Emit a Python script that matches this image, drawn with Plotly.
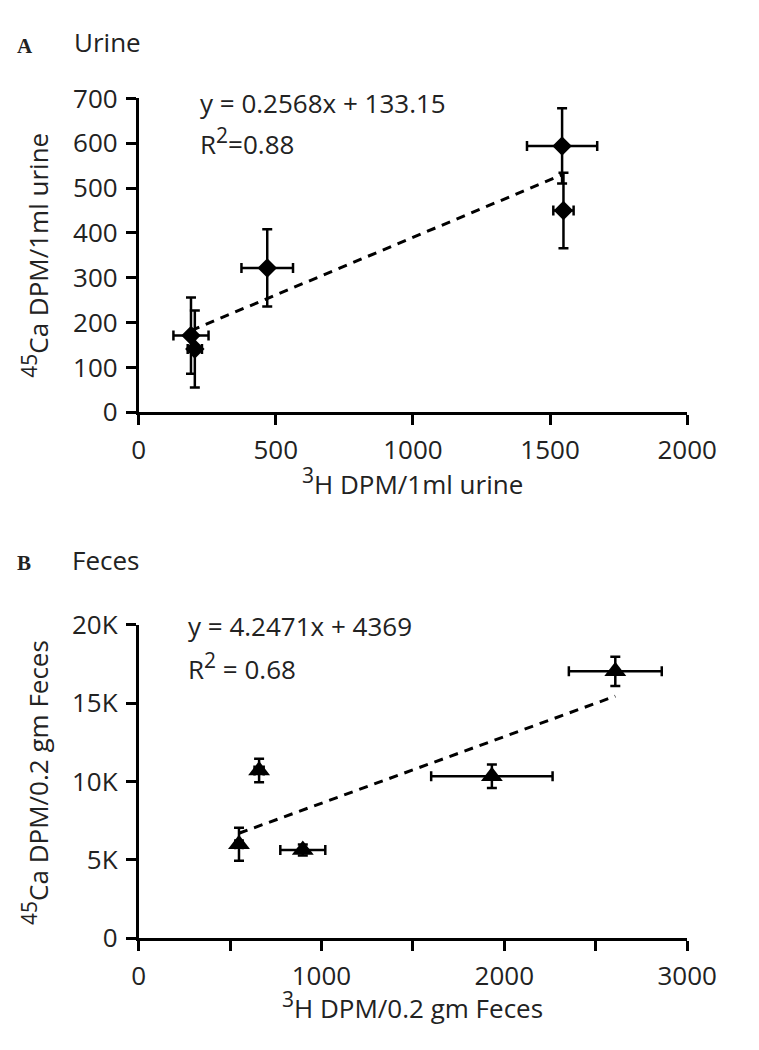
import plotly.graph_objects as go

# ---------------- data ----------------
# Panel A: Urine
urine_x = [191, 205, 469, 1544, 1549]
urine_y = [171, 141, 322, 594, 450]
urine_xerr = [64, 26, 94, 128, 37]
urine_yerr = [85, 86, 86, 84, 84]
urine_slope = 0.2568
urine_intercept = 133.15

# Panel B: Feces
feces_x = [549, 659, 898, 1932, 2607]
feces_y = [6000, 10700, 5640, 10330, 17020]
feces_xerr = [20, 25, 123, 332, 254]
feces_yerr = [1050, 750, 350, 750, 930]
feces_slope = 4.2471
feces_intercept = 4369

urine_yticks = [0, 100, 200, 300, 400, 500, 600, 700]
urine_xticks = [0, 500, 1000, 1500, 2000]
feces_yticks = [0, 5000, 10000, 15000, 20000]
feces_yticktext = ["0", "5K", "10K", "15K", "20K"]
feces_xticks = [0, 1000, 2000, 3000]

FONT = "Open Sans"
FS = 26
PAGE_OFF = 8            # default body margin of the html page
W, H = 759 - PAGE_OFF, 1050 - PAGE_OFF


def sup(s):
    return '<sup><span style="font-size:21px">' + s + '</span></sup>'


urine_eq = ["y = 0.2568x + 133.15", "R" + sup("2") + "=0.88"]
feces_eq = ["y = 4.2471x + 4369", "R" + sup("2") + " = 0.68"]

fig = go.Figure()


def err(arr):
    return dict(type="data", array=arr, visible=True, color="black", thickness=2.5, width=5)


# Panel A points
fig.add_trace(go.Scatter(
    x=urine_x, y=urine_y, mode="markers",
    marker=dict(symbol="diamond", size=15, color="black"),
    error_x=err(urine_xerr), error_y=err(urine_yerr),
    xaxis="x", yaxis="y", showlegend=False))
ua = [min(urine_x), max(urine_x)]
fig.add_trace(go.Scatter(
    x=ua, y=[urine_slope * v + urine_intercept for v in ua], mode="lines",
    line=dict(color="black", width=3, dash="9px,7px"),
    xaxis="x", yaxis="y", showlegend=False))

# Panel B points
fig.add_trace(go.Scatter(
    x=feces_x, y=feces_y, mode="markers",
    marker=dict(symbol="triangle-up", size=19, color="black"),
    error_x=err(feces_xerr), error_y=err(feces_yerr),
    xaxis="x2", yaxis="y2", showlegend=False))
fb = [min(feces_x), max(feces_x)]
fig.add_trace(go.Scatter(
    x=fb, y=[feces_slope * v + feces_intercept for v in fb], mode="lines",
    line=dict(color="black", width=3, dash="9px,7px"),
    xaxis="x2", yaxis="y2", showlegend=False))


def px_x(p):
    return (p - PAGE_OFF) / W


def px_y(p):
    return 1 - (p - PAGE_OFF) / H


x_dom = [px_x(138), px_x(715)]
axis_common = dict(
    showgrid=False, zeroline=False, showline=True, linecolor="black", linewidth=2.5,
    ticks="outside", ticklen=10, tickwidth=2.5, tickcolor="black", ticklabelstandoff=3,
    tickfont=dict(family=FONT, size=FS, color="#222"),
)

fig.update_layout(
    width=W, height=H,
    margin=dict(l=0, r=0, t=0, b=0),
    paper_bgcolor="white", plot_bgcolor="white",
    xaxis=dict(domain=x_dom, anchor="y", range=[0, 2000], tickvals=urine_xticks, **axis_common),
    yaxis=dict(domain=[px_y(407), px_y(82)], anchor="x", range=[0, 700], tickvals=urine_yticks, **axis_common),
    xaxis2=dict(domain=x_dom, anchor="y2", range=[0, 3000], tickvals=feces_xticks,
                minor=dict(dtick=500, tick0=0, ticks="outside", ticklen=10, tickwidth=2.5, tickcolor="black"),
                **axis_common),
    yaxis2=dict(domain=[px_y(952), px_y(627)], anchor="x2", range=[0, 20000], tickvals=feces_yticks,
                ticktext=feces_yticktext, **axis_common),
)

ann = []


def txt(x, y, s, size=FS, family=FONT, angle=0, xanchor="center"):
    ann.append(dict(x=px_x(x), y=px_y(y), xref="paper", yref="paper", text=s, showarrow=False,
                    font=dict(family=family, size=size, color="#222"), textangle=angle,
                    xanchor=xanchor, yanchor="middle"))


# panel labels
txt(8, 28, "<b>A</b>", size=21, family="Liberation Serif", xanchor="left")
txt(68, 24, "Urine", xanchor="left")
txt(8, 563, "<b>B</b>", size=21, family="Liberation Serif", xanchor="left")
txt(66, 560, "Feces", xanchor="left")

# axis titles
txt(30, 244, sup("45") + "Ca DPM/1ml urine", angle=-90)
txt(426, 479, sup("3") + "H DPM/1ml urine")
txt(30, 790, sup("45") + "Ca DPM/0.2 gm Feces", angle=-90)
txt(426, 1021, sup("3") + "H DPM/0.2 gm Feces")

# equations (data coordinates)
for s, yv in zip(urine_eq, [690, 605]):
    ann.append(dict(x=215, y=yv, xref="x", yref="y", text=s, showarrow=False, xanchor="left",
                    yanchor="middle", font=dict(family=FONT, size=FS, color="#222")))
for s, yv in zip(feces_eq, [19900, 17300]):
    ann.append(dict(x=260, y=yv, xref="x2", yref="y2", text=s, showarrow=False, xanchor="left",
                    yanchor="middle", font=dict(family=FONT, size=FS, color="#222")))

fig.update_layout(annotations=ann)
fig.write_html("out.html")
